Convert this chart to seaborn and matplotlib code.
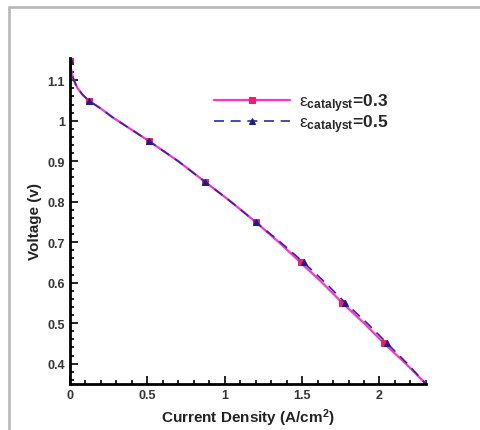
import numpy as np
import pandas as pd
import matplotlib
matplotlib.use("Agg")
import matplotlib.pyplot as plt
from matplotlib.lines import Line2D
from matplotlib.ticker import MultipleLocator, FormatStrFormatter
import seaborn as sns

# polarization curves
voltage = [1.15, 1.12, 1.10, 1.08, 1.065, 1.05, 1.03, 1.01, 1.0, 0.975, 0.95,
           0.90, 0.85, 0.80, 0.75, 0.70, 0.65, 0.60, 0.55, 0.50, 0.45, 0.40, 0.35]
current_03 = [0.0, 0.01, 0.025, 0.05, 0.08, 0.12, 0.2, 0.27, 0.31, 0.41, 0.51,
              0.70, 0.87, 1.04, 1.20, 1.35, 1.49, 1.63, 1.76, 1.90, 2.03, 2.17, 2.30]
current_05 = [0.0, 0.01, 0.025, 0.05, 0.08, 0.12, 0.2, 0.27, 0.31, 0.41, 0.51,
              0.70, 0.87, 1.04, 1.20, 1.36, 1.51, 1.65, 1.78, 1.92, 2.05, 2.18, 2.30]
marker_idx = [0, 5, 10, 12, 14, 16, 18, 20, 22]
labels = [r'$\varepsilon_{\mathbf{catalyst}}$=0.3', r'$\varepsilon_{\mathbf{catalyst}}$=0.5']

sns.set_style("ticks")
plt.rcParams['font.family'] = ['Liberation Sans', 'DejaVu Sans']
plt.rcParams['mathtext.fontset'] = 'custom'
plt.rcParams['mathtext.rm'] = 'Liberation Sans'
plt.rcParams['mathtext.it'] = 'Liberation Sans'
plt.rcParams['mathtext.bf'] = 'Liberation Sans:bold'

fig = plt.figure(figsize=(4.81, 4.31), dpi=100)
ax = fig.add_axes([0.1455, 0.107, 0.740, 0.756])

df1 = pd.DataFrame({"I": current_03, "V": voltage})
df2 = pd.DataFrame({"I": current_05, "V": voltage})

sns.lineplot(data=df1, x="I", y="V", ax=ax, sort=False, errorbar=None,
             color="#ff33cc", lw=1.6, marker="s", markersize=5,
             markerfacecolor="#e8206e", markeredgecolor="#e8206e",
             markevery=marker_idx, label=labels[0])
sns.lineplot(data=df2, x="I", y="V", ax=ax, sort=False, errorbar=None,
             color="#2b2b9c", lw=1.2, linestyle=(0, (6, 4)), marker="^", markersize=5,
             markerfacecolor="#1c1c8c", markeredgecolor="#1c1c8c",
             markevery=marker_idx, label=labels[1])

ax.set_xlim(0, 2.3)
ax.set_ylim(0.35, 1.155)
ax.xaxis.set_major_locator(MultipleLocator(0.5))
ax.xaxis.set_minor_locator(MultipleLocator(0.1))
ax.yaxis.set_major_locator(MultipleLocator(0.1))
ax.yaxis.set_minor_locator(MultipleLocator(0.02))
ax.xaxis.set_major_formatter(FormatStrFormatter('%g'))
ax.yaxis.set_major_formatter(FormatStrFormatter('%g'))
ax.tick_params(which='both', direction='in', color='black', width=1.2)
ax.tick_params(which='major', length=6, labelsize=9, labelcolor='#333333')
ax.tick_params(which='minor', length=3)
for t in ax.get_xticklabels() + ax.get_yticklabels():
    t.set_fontweight('bold')
for s in ['top', 'right']:
    ax.spines[s].set_visible(False)
for s in ['left', 'bottom']:
    ax.spines[s].set_linewidth(2)
    ax.spines[s].set_color('black')

ax.set_xlabel(r'Current Density (A/cm$^\mathbf{2}$)', fontsize=11, fontweight='bold', color='#222222')
ax.set_ylabel('Voltage (v)', fontsize=11, fontweight='bold', color='#222222')

ax.legend(loc='upper left', bbox_to_anchor=(0.36, 0.945), frameon=False,
          handlelength=4.4, labelspacing=-0.1, handletextpad=0.5,
          prop={'weight': 'bold', 'size': 12.5})

# grey frame on the left and top of the picture
fig.add_artist(Line2D([0.019, 0.019], [0.0, 0.981], color='#bbbbbb', lw=2))
fig.add_artist(Line2D([0.019, 1.0], [0.981, 0.981], color='#bbbbbb', lw=2))

fig.savefig("out.png", dpi=100)
